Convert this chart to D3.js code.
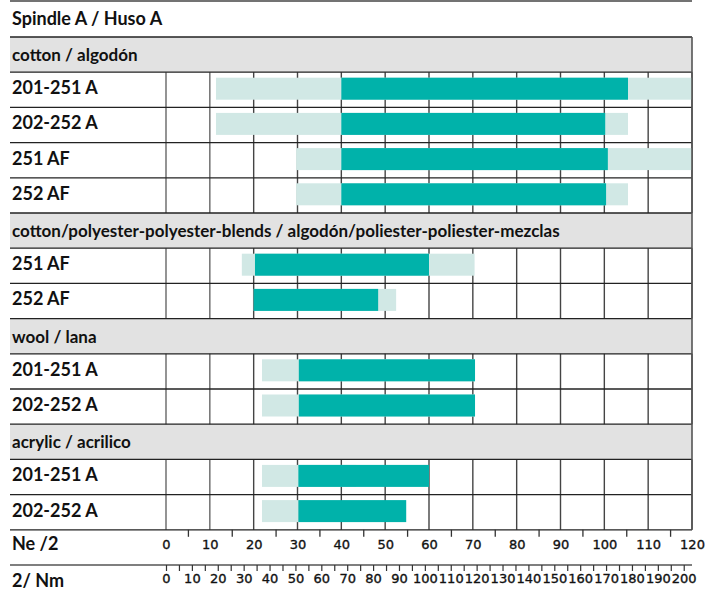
<!DOCTYPE html>
<html><head><meta charset="utf-8">
<script src="https://cdn.jsdelivr.net/npm/d3@7"></script>
<style>
  body { margin: 0; background: #fff; }
  text { fill: #111; }
  .lbl { font-family: Lato, sans-serif; font-weight: bold; font-size: 18px; }
  .hdr { font-family: Lato, sans-serif; font-weight: bold; font-size: 17px; }
  .tick text { font-family: "DejaVu Sans", sans-serif; font-size: 13px; fill: #111; stroke: #111; stroke-width: 0.35px; }
</style>
</head><body>
<div id="chart"></div>
<script>
// rows top to bottom: group headers have no bars
var rowNames = ["cotton / algodón", "201-251 A", "202-252 A", "251 AF", "252 AF",
    "cotton/polyester-polyester-blends / algodón/poliester-poliester-mezclas", "251 AF", "252 AF",
    "wool / lana", "201-251 A", "202-252 A",
    "acrylic / acrilico", "201-251 A", "202-252 A"];
var isHeader = [1, 0, 0, 0, 0, 1, 0, 0, 1, 0, 0, 1, 0, 0];
// possible range (light) and recommended range (dark), in Ne /2
var lightStart = [null, 11.4, 11.4, 29.7, 29.7, null, 17.3, 20, null, 21.9, 21.9, null, 21.9, 21.9];
var lightEnd   = [null, 120, 105.4, 120, 105.4, null, 70.4, 52.5, null, 70.5, 70.5, null, 43.4, 30.2];
var darkStart  = [null, 40, 40, 40, 40, null, 20.3, 20, null, 30.3, 30.3, null, 30.2, 30.2];
var darkEnd    = [null, 105.4, 100.2, 100.8, 100.4, null, 60, 48.4, null, 70.5, 70.5, null, 60, 54.8];

var neTicks = [0, 10, 20, 30, 40, 50, 60, 70, 80, 90, 100, 110, 120];
var nmTicks = [0, 10, 20, 30, 40, 50, 60, 70, 80, 90, 100, 110, 120, 130, 140, 150, 160, 170, 180, 190, 200];
var nePerNm = 1.6933;

var width = 706, height = 593;
var left = 10, right = 692, tableTop = 37, rowH = 35.2;
var light = "#d1e8e5", dark = "#00b2aa", grey = "#e2e2e2";

var svg = d3.select("#chart").append("svg")
    .attr("width", width)
    .attr("height", height);

var x = d3.scaleLinear().domain([0, 120]).range([166, right]);
var xNm = d3.scaleLinear().domain([0, 120 * nePerNm]).range([166, right]);
var y = d3.scaleLinear().domain([0, rowNames.length]).range([tableTop, tableTop + rowH * rowNames.length]);
var bottom = y(rowNames.length);

// title
svg.append("line").attr("x1", left).attr("x2", right).attr("y1", 1).attr("y2", 1)
    .style("stroke", "#444").style("stroke-width", 1.5);
svg.append("text").attr("class", "lbl").attr("x", 12).attr("y", 25).text("Spindle A / Huso A");

var rows = rowNames.map(function(n, i) {
    return {name: n, header: isHeader[i], ls: lightStart[i], le: lightEnd[i], ds: darkStart[i], de: darkEnd[i], i: i};
});

// grey group bands
svg.selectAll(".band")
    .data(rows.filter(function(d) { return d.header; })).enter()
    .append("rect")
    .attr("x", left)
    .attr("y", function(d) { return y(d.i); })
    .attr("width", right - left)
    .attr("height", rowH)
    .style("fill", grey);

// vertical grid inside the data rows
var grid = svg.append("g");
rows.filter(function(d) { return !d.header; }).forEach(function(d) {
    grid.selectAll(null)
        .data(neTicks).enter()
        .append("line")
        .attr("x1", function(t) { return x(t); })
        .attr("x2", function(t) { return x(t); })
        .attr("y1", y(d.i))
        .attr("y2", y(d.i + 1))
        .style("stroke", function(t) { return t < 20 ? "#666" : "#444"; })
        .style("stroke-width", 1.4);
});

// bars
var barPad = 5.5, barH = 22;
var data = rows.filter(function(d) { return !d.header; });
svg.selectAll(".light")
    .data(data).enter()
    .append("rect")
    .attr("x", function(d) { return x(d.ls); })
    .attr("y", function(d) { return y(d.i) + barPad; })
    .attr("width", function(d) { return x(d.le) - x(d.ls); })
    .attr("height", barH)
    .style("fill", light);
svg.selectAll(".dark")
    .data(data).enter()
    .append("rect")
    .attr("x", function(d) { return x(d.ds); })
    .attr("y", function(d) { return y(d.i) + barPad; })
    .attr("width", function(d) { return x(d.de) - x(d.ds); })
    .attr("height", barH)
    .style("fill", dark);

// horizontal row lines
svg.selectAll(".hline")
    .data(d3.range(rowNames.length + 1)).enter()
    .append("line")
    .attr("x1", left).attr("x2", right)
    .attr("y1", function(i) { return y(i); })
    .attr("y2", function(i) { return y(i); })
    .style("stroke", "#222")
    .style("stroke-width", 1.3);
svg.append("line").attr("x1", right).attr("x2", right).attr("y1", tableTop).attr("y2", bottom)
    .style("stroke", "#555").style("stroke-width", 1.6);

// row labels
svg.selectAll(".rowlabel")
    .data(rows).enter()
    .append("text")
    .attr("class", function(d) { return d.header ? "hdr" : "lbl"; })
    .attr("x", 12)
    .attr("y", function(d) { return y(d.i) + (d.header ? 24 : 22); })
    .text(function(d) { return d.name; });

// Ne /2 axis
var neAxis = svg.append("g").attr("transform", "translate(0," + bottom + ")");
neAxis.call(d3.axisBottom(x).tickValues(neTicks).tickSize(0).tickPadding(10).tickFormat(d3.format("d")));
neAxis.append("g").call(d3.axisBottom(x).tickValues(d3.range(5, 120, 10)).tickSize(7).tickFormat(""));
neAxis.selectAll(".domain").remove();
neAxis.selectAll(".tick line").style("stroke", "#333").style("stroke-width", 1.3);
svg.append("text").attr("class", "lbl").attr("x", 12).attr("y", 550).text("Ne /2");

// 2/ Nm axis
var nmY = 565;
svg.append("line").attr("x1", left).attr("x2", right).attr("y1", nmY).attr("y2", nmY)
    .style("stroke", "#555").style("stroke-width", 1.3);
var nmAxis = svg.append("g").attr("transform", "translate(0," + nmY + ")");
nmAxis.call(d3.axisBottom(xNm).tickValues(d3.range(0, 201, 5)).tickSize(6).tickFormat(""));
nmAxis.append("g").call(d3.axisBottom(xNm).tickValues(nmTicks).tickSize(0).tickPadding(9).tickFormat(d3.format("d")));
nmAxis.selectAll(".domain").remove();
nmAxis.selectAll(".tick line").style("stroke", "#333").style("stroke-width", 1.2);
svg.append("text").attr("class", "lbl").attr("x", 12).attr("y", 587).text("2/ Nm");
</script>
</body></html>
